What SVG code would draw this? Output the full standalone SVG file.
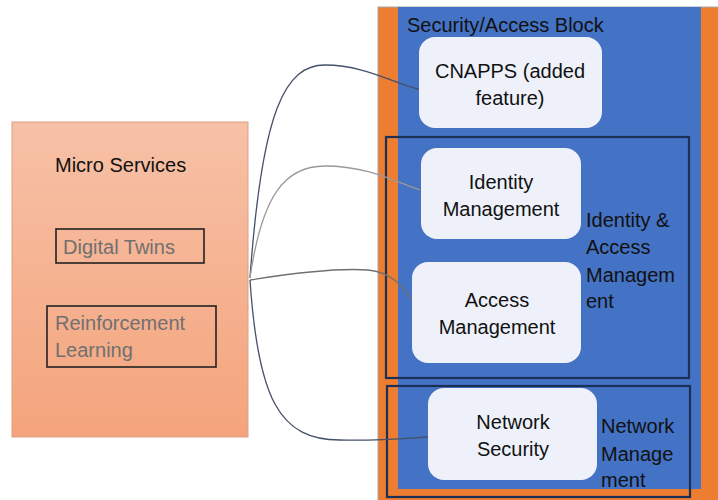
<svg xmlns="http://www.w3.org/2000/svg" width="718" height="500" viewBox="0 0 718 500">
<style>
text{font-family:"Liberation Sans",Arial,sans-serif;font-size:20px;fill:#111}
.node{fill:#eef1f9}
.grp{fill:none;stroke:#1c2f55;stroke-width:2.2}
.c{text-anchor:middle}
.gray{fill:#707070}
.lbl{fill:none;stroke:#222;stroke-width:1.6}
.con{fill:none;stroke-width:1.3}
</style>
<defs>
<linearGradient id="ms" x1="0" y1="0" x2="0" y2="1">
<stop offset="0" stop-color="#f7c1a7"/>
<stop offset="1" stop-color="#f4a47c"/>
</linearGradient>
</defs>
<g id="security-block">
<rect x="378" y="7" width="345" height="498" fill="#ed7d31" stroke="#a8a8a8" stroke-width="1"/>
<rect x="398" y="7" width="303" height="482" fill="#4472c4"/>
<text x="407" y="32">Security/Access Block</text>
</g>
<g id="micro-services">
<rect x="12" y="122" width="236" height="315" fill="url(#ms)" stroke="#d9a283" stroke-width="1"/>
<text x="55" y="172">Micro Services</text>
</g>
<g id="digital-twins">
<rect x="56" y="229" width="148" height="34" class="lbl"/>
<text x="63" y="254" class="gray">Digital Twins</text>
</g>
<g id="reinforcement-learning">
<rect x="47" y="306" width="169" height="61" class="lbl"/>
<text x="55" y="330" class="gray">Reinforcement</text>
<text x="55" y="357" class="gray">Learning</text>
</g>
<g id="iam-group">
<rect x="386" y="137" width="303" height="241" class="grp"/>
<text x="586" y="227">Identity &amp;</text>
<text x="586" y="254">Access</text>
<text x="586" y="282">Managem</text>
<text x="586" y="308">ent</text>
</g>
<g id="network-group">
<rect x="387" y="386" width="303" height="111" class="grp"/>
<text x="601" y="433">Network</text>
<text x="601" y="461">Manage</text>
<text x="601" y="487">ment</text>
</g>
<g id="connectors">
<path class="con" stroke="#46506b" d="M250,278 C262,110 285,65 325,65 C365,65 395,84 422,90"/>
<path class="con" stroke="#9a9a9a" d="M250,278 C262,195 285,166 325,166 C365,166 392,180 420,190"/>
<path class="con" stroke="#707070" d="M250,280 C300,272 340,268 368,270 C393,272 405,290 412,300"/>
<path class="con" stroke="#46506b" d="M250,280 C258,400 280,440 340,440 C380,441 410,438 428,437"/>
</g>
<g id="cnapps">
<rect x="419" y="37" width="183" height="91" rx="16" class="node"/>
<text x="510" y="78" class="c">CNAPPS (added</text>
<text x="510" y="105" class="c">feature)</text>
</g>
<g id="identity-management">
<rect x="421" y="148" width="160" height="91" rx="16" class="node"/>
<text x="501" y="189" class="c">Identity</text>
<text x="501" y="216" class="c">Management</text>
</g>
<g id="access-management">
<rect x="412" y="262" width="169" height="101" rx="16" class="node"/>
<text x="497" y="307" class="c">Access</text>
<text x="497" y="334" class="c">Management</text>
</g>
<g id="network-security">
<rect x="428" y="388" width="169" height="92" rx="16" class="node"/>
<text x="513" y="429" class="c">Network</text>
<text x="513" y="456" class="c">Security</text>
</g>
</svg>
